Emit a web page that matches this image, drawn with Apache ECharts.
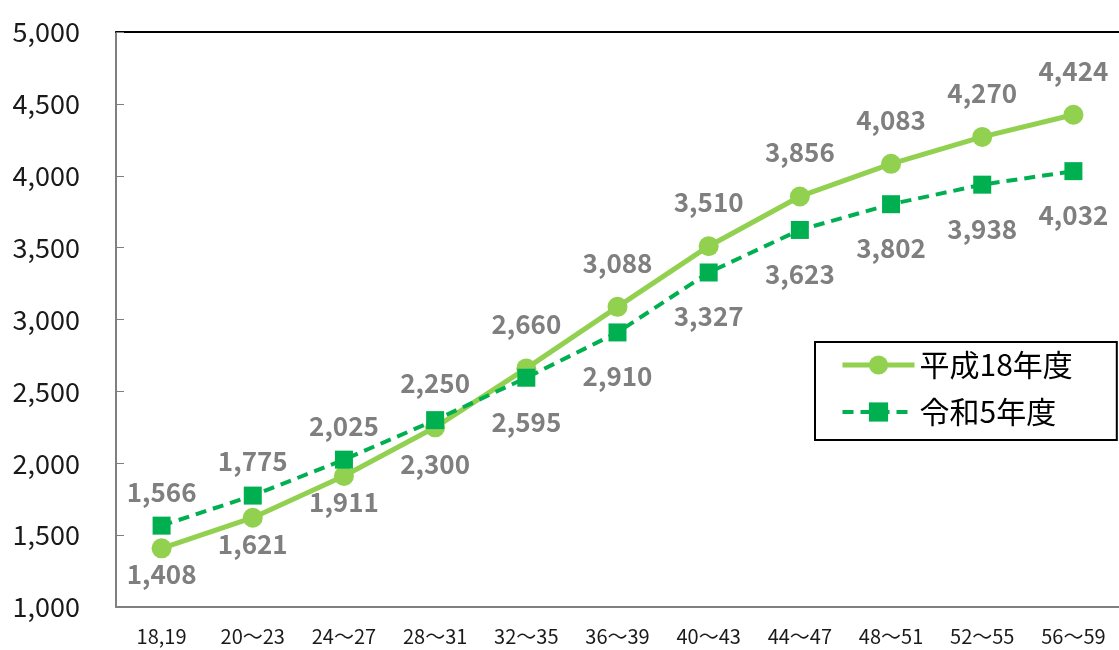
<!DOCTYPE html>
<html><head><meta charset="utf-8">
<script src="https://cdn.jsdelivr.net/npm/echarts@6/dist/echarts.min.js"></script>
<style>html,body{margin:0;padding:0;background:#fff}#c{width:1119px;height:650px}</style>
</head><body><div id="c"></div>
<script>
const categories = ['18,19','20～23','24～27','28～31','32～35','36～39','40～43','44～47','48～51','52～55','56～59'];
const seriesNames = ['平成18年度','令和5年度'];
const h18 = [1408,1621,1911,2250,2660,3088,3510,3856,4083,4270,4424];
const r5 = [1566,1775,2025,2300,2595,2910,3327,3623,3802,3938,4032];
const h18LabelPos = ['bottom','bottom','bottom','top','top','top','top','top','top','top','top'];
const r5LabelPos = ['top','top','top','bottom','bottom','bottom','bottom','bottom','bottom','bottom','bottom'];
const yTicks = {min:1000, max:5000, interval:500};

const fmt = v => v.toLocaleString('en-US');
const labelBase = {show:true, color:'#7F7F7F', fontWeight:'bold', fontSize:26, fontFamily:'Noto Sans CJK JP', formatter:p=>fmt(p.value)};

const chart = echarts.init(document.getElementById('c'));
chart.setOption({
  animation:false,
  textStyle:{fontFamily:'Noto Sans CJK JP'},
  grid:{left:116, top:32, width:1006, bottom:43, containLabel:false},
  legend:{
    left:815, top:342, orient:'vertical',
    borderColor:'#000', borderWidth:2, padding:[7,44,12,25],
    itemWidth:72, itemHeight:24, itemGap:15,
    lineStyle:{width:'inherit'},
    textStyle:{fontSize:30, color:'#000', lineHeight:32, fontFamily:'Noto Sans CJK JP'},
    data:seriesNames
  },
  xAxis:[{
    type:'category', data:categories, boundaryGap:true,
    axisLine:{lineStyle:{color:'#808080', width:2}},
    axisTick:{inside:true, alignWithLabel:true, length:7, lineStyle:{color:'#808080', width:1}},
    axisLabel:{color:'#1a1a1a', fontSize:20, margin:19}
  },{
    type:'category', data:categories, position:'top',
    axisLine:{lineStyle:{color:'#000', width:2}},
    axisTick:{show:false}, axisLabel:{show:false}
  }],
  yAxis:{
    type:'value', min:yTicks.min, max:yTicks.max, interval:yTicks.interval,
    axisLine:{show:true, lineStyle:{color:'#808080', width:2}},
    axisTick:{show:true, inside:true, length:8, lineStyle:{color:'#808080', width:1}},
    splitLine:{show:false},
    axisLabel:{color:'#1a1a1a', fontSize:27, margin:36, formatter:v=>fmt(v)}
  },
  series:[{
    name:seriesNames[0], type:'line', data:h18.map((v,i)=>({value:v, label:{position:h18LabelPos[i], distance:h18LabelPos[i]==='top'?21:3}})),
    symbol:'circle', symbolSize:20, z:3,
    lineStyle:{color:'#92D050', width:5},
    itemStyle:{color:'#92D050'},
    label:labelBase
  },{
    name:seriesNames[1], type:'line', data:r5.map((v,i)=>({value:v, label:{position:r5LabelPos[i], distance:r5LabelPos[i]==='top'?12:22}})),
    symbol:'rect', symbolSize:18, z:4,
    lineStyle:{color:'#00B050', width:4, type:[11,7]},
    itemStyle:{color:'#00B050'},
    label:labelBase
  }]
});
</script></body></html>
